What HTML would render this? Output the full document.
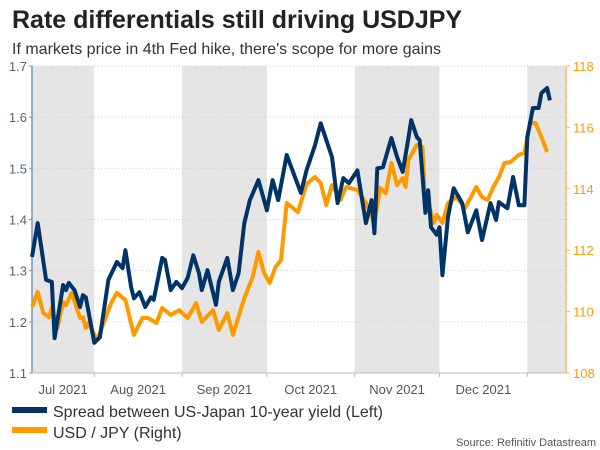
<!DOCTYPE html>
<html><head><meta charset="utf-8"><style>
body{margin:0;background:#fff;font-family:"Liberation Sans",sans-serif}
svg{display:block}
</style></head><body>
<svg width="600" height="450" xmlns="http://www.w3.org/2000/svg" id="chart">
<text x="12" y="28" font-size="25" font-weight="bold" fill="#222">Rate differentials still driving USDJPY</text>
<text x="12" y="54" font-size="16" fill="#333">If markets price in 4th Fed hike, there's scope for more gains</text>
<g id="bands"></g><g id="grid"></g><g id="axes"></g><g id="lines"></g>
<g>
<rect x="12" y="407" width="35" height="6" fill="#003366"/>
<text x="53" y="417" font-size="16" fill="#333">Spread between US-Japan 10-year yield (Left)</text>
<rect x="12" y="427" width="35" height="6" fill="#ff9900"/>
<text x="53" y="438" font-size="16" fill="#333">USD / JPY (Right)</text>
</g>
<text x="596" y="446" font-size="11" fill="#555" text-anchor="end">Source: Refinitiv Datastream</text>
</svg>
<script>
const spreadDays=[0,2,5,7,8,11,12,13,15,17,18,19,22,24,27,30,32,33,35,36,38,40,42,43,46,47,49,51,53,55,57,59,60,62,65,66,69,71,73,75,77,80,83,85,87,90,95,97,100,102,106,108,110,112,115,118,120,121,122,124,127,129,131,133,134,136,137,139,140,141,143,144,145,147,149,152,154,157,159,162,164,165,168,170,172,174,175,177,179,180,182,183];
const spreadVals=[1.327,1.393,1.282,1.278,1.168,1.272,1.262,1.276,1.262,1.229,1.252,1.248,1.159,1.170,1.282,1.317,1.305,1.340,1.268,1.246,1.258,1.229,1.248,1.243,1.325,1.321,1.262,1.278,1.266,1.286,1.330,1.295,1.262,1.301,1.233,1.278,1.325,1.262,1.295,1.393,1.438,1.477,1.418,1.477,1.438,1.526,1.452,1.496,1.545,1.588,1.522,1.432,1.481,1.471,1.496,1.393,1.438,1.373,1.500,1.502,1.559,1.522,1.493,1.559,1.594,1.561,1.555,1.413,1.457,1.385,1.370,1.385,1.291,1.405,1.461,1.432,1.375,1.418,1.360,1.432,1.399,1.434,1.422,1.483,1.428,1.428,1.561,1.618,1.618,1.647,1.657,1.633];
const fxDays=[0,2,4,6,7,9,11,12,14,17,18,19,20,23,28,30,33,36,39,41,44,46,49,52,55,58,60,64,66,69,71,75,78,80,82,84,86,88,90,94,97,100,102,104,106,109,111,115,118,121,123,125,127,129,131,132,133,136,138,139,140,142,143,145,147,150,153,157,159,161,163,165,167,169,172,174,176,178,180,182];
const fxVals=[110.15,110.64,109.95,109.82,110.12,109.47,110.31,110.21,110.61,109.79,109.82,109.47,109.63,109.07,110.28,110.61,110.38,109.24,109.79,109.79,109.63,110.12,109.89,110.05,109.79,110.28,109.66,110.05,109.40,109.95,109.24,110.44,111.13,111.94,111.26,110.93,111.45,111.68,113.54,113.24,114.16,114.38,114.19,113.47,114.12,113.64,114.06,113.96,113.54,112.89,114.03,113.86,114.84,114.12,114.35,114.06,114.94,115.43,115.36,113.31,113.54,112.89,113.15,112.89,113.54,113.73,113.37,114.06,113.73,113.64,114.06,114.38,114.84,114.87,115.10,115.17,116.14,116.14,115.69,115.20];
const leftTicks=[1.1,1.2,1.3,1.4,1.5,1.6,1.7];
const rightTicks=[108,110,112,114,116,118];
const monthLabels=["Jul 2021","Aug 2021","Sep 2021","Oct 2021","Nov 2021","Dec 2021"];
// day offsets (from first data point) of month starts Jul..Jan
const monthStartDays=[-9,22,53,83,114,144,175];

const X0=32,X1=566,Y0=373,Y1=66,PXD=2.83;
const xS=d=>X0+d*PXD;
const yL=v=>Y0-(v-1.1)/0.6*(Y0-Y1);
const yR=v=>Y0-(v-108)/10*(Y0-Y1);
const NS="http://www.w3.org/2000/svg";
function mk(tag,attrs,parent){const e=document.createElementNS(NS,tag);for(const k in attrs)e.setAttribute(k,attrs[k]);document.getElementById(parent).appendChild(e);return e;}

[0,2,4,6].forEach(i=>{
  const a=Math.max(X0,xS(monthStartDays[i]));
  const b=i+1<monthStartDays.length?Math.min(X1,xS(monthStartDays[i+1])):X1;
  const r=mk('rect',{x:a,y:Y1,width:b-a,height:Y0-Y1,fill:'#e5e5e5'},'bands');
  
  
});
leftTicks.forEach(v=>{
  const y=yL(v);
  const l=mk('line',{x1:X0,x2:X1,y1:y,y2:y,stroke:'#cfcfcf','stroke-dasharray':'1,2','stroke-width':1},'grid');
  
  
  const t=mk('text',{x:X0-5,y:y+5,'font-size':13,fill:'#556677','text-anchor':'end'},'axes');
  t.textContent=v.toFixed(1);
  
  
  const tk=mk('line',{x1:X0-3,x2:X0,y1:y,y2:y,stroke:'#7a95b5'},'axes');
  
  
});
rightTicks.forEach(v=>{
  const y=yR(v);
  const t=mk('text',{x:X1+7,y:y+5,'font-size':13,fill:'#ff9900'},'axes');
  t.textContent=v;
  
  
  const tk=mk('line',{x1:X1,x2:X1+4,y1:y,y2:y,stroke:'#ffbb55'},'axes');
  
  
});
for(let v=109;v<118;v+=0.5){if(v%2===0)continue;const y=yR(v);
  const tk=mk('line',{x1:X1,x2:X1+2,y1:y,y2:y,stroke:'#ffcc88'},'axes');
  
  }
let ax=mk('line',{x1:X0,x2:X0,y1:Y1,y2:Y0,stroke:'#7a95b5','stroke-width':1.5},'axes');


ax=mk('line',{x1:X1,x2:X1,y1:Y1,y2:Y0,stroke:'#ffbb55','stroke-width':1.5},'axes');


ax=mk('line',{x1:X0,x2:X1,y1:Y0,y2:Y0,stroke:'#bbb'},'axes');


monthStartDays.slice(1).forEach(d=>{
  const tk=mk('line',{x1:xS(d),x2:xS(d),y1:Y0,y2:Y0+4,stroke:'#bbb'},'axes');
  
  
});
monthLabels.forEach((m,i)=>{
  const a=Math.max(X0,xS(monthStartDays[i]));
  const c=(a+xS(monthStartDays[i+1]))/2;
  const t=mk('text',{x:c,y:Y0+21,'font-size':13,fill:'#555','text-anchor':'middle'},'axes');
  t.textContent=m;
  
  
});
const fxPts=fxDays.map((d,i)=>xS(d).toFixed(1)+','+yR(fxVals[i]).toFixed(1)).join(' ');
const fl=mk('polyline',{points:fxPts,fill:'none',stroke:'#ff9900','stroke-width':4,'stroke-linejoin':'round'},'lines');


const spPts=spreadDays.map((d,i)=>xS(d).toFixed(1)+','+yL(spreadVals[i]).toFixed(1)).join(' ');
const sl=mk('polyline',{points:spPts,fill:'none',stroke:'#003366','stroke-width':4,'stroke-linejoin':'round'},'lines');


</script>
</body></html>
